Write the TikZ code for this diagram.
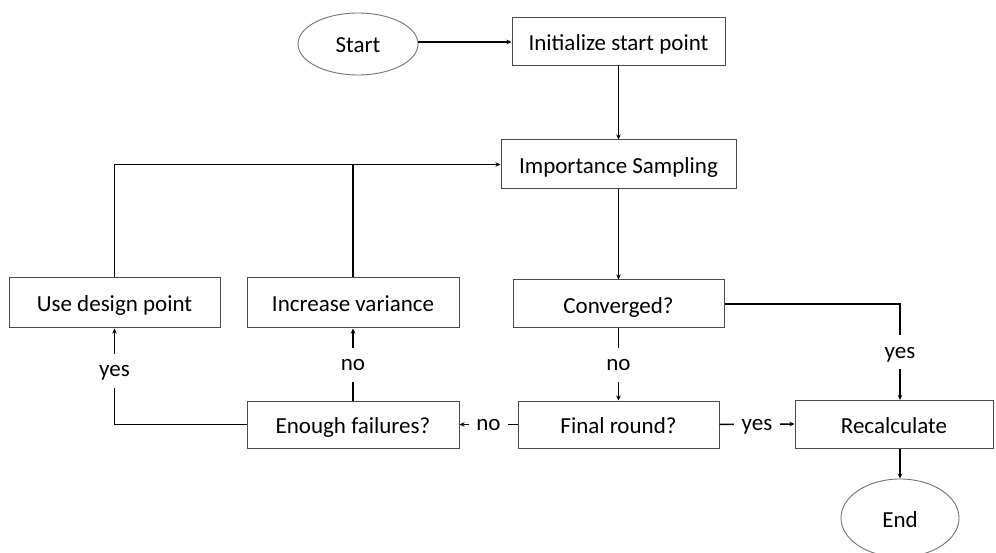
\documentclass[tikz,border=0pt]{standalone}
\usepackage{fontspec}
\setmainfont{Carlito}
\usetikzlibrary{shapes.geometric,arrows.meta}
\begin{document}
\begin{tikzpicture}[x=1pt,y=-1pt,
  every node/.style={font=\fontsize{23}{27}\selectfont, text=black},
  box/.style={draw=black!70, line width=1pt, rectangle, inner sep=0pt, minimum height=48pt, text height=18pt, text depth=0pt},
  oval/.style={draw=black!55, line width=0.9pt, ellipse, inner sep=0pt, text height=18pt, text depth=0pt},
  conn/.style={draw=black, line width=1.5pt},
  arr/.style={conn, -{Stealth[length=5pt,width=4.5pt]}},
  lbl/.style={fill=white, inner xsep=7.5pt, inner ysep=11pt, text height=12pt, text depth=0pt}]
\useasboundingbox (0,0) rectangle (996,553);
\node[oval, minimum width=120pt, minimum height=62pt] (start) at (358,44) {Start};
\node[box, minimum width=213pt] (init) at (618.5,42) {Initialize start point};
\node[box, minimum width=235pt, minimum height=49pt] (is) at (618.5,164.5) {Importance Sampling};
\node[box, minimum width=211pt] (conv) at (618.5,304) {Converged?};
\node[box, minimum width=211pt, minimum height=50pt] (udp) at (114.5,303) {Use design point};
\node[box, minimum width=212pt, minimum height=50pt] (iv) at (353,303) {Increase variance};
\node[box, minimum width=212pt, minimum height=47pt] (ef) at (353,424.5) {Enough failures?};
\node[box, minimum width=201pt, minimum height=47pt] (fr) at (618.5,424.5) {Final round?};
\node[box, minimum width=198pt] (rc) at (894,424) {Recalculate};
\coordinate (rcx) at (900,400);
\node[oval, minimum width=118pt, minimum height=78pt] (end) at (900,518) {End};

\draw[arr] (start.east |- init.west) -- (init.west);
\draw[arr] (init.south) -- (is.north);
\draw[arr] (udp.north) |- (is.west);
\draw[conn] (iv.north) -- (iv.north |- is.west);
\draw[arr] (is.south) -- (conv.north);
\draw[arr] (conv.east) -| (rcx) node[lbl, pos=0.75] {yes};
\draw[arr] (conv.south) -- (fr.north) node[lbl, midway] {no};
\draw[arr] (fr.west) -- (ef.east) node[lbl, midway] {no};
\draw[arr] (fr.east) -- (rc.west) node[lbl, midway] {yes};
\draw[arr] (ef.north) -- (iv.south) node[lbl, midway] {no};
\draw[arr] (ef.west) -| (udp.south) node[lbl, pos=0.78] {yes};
\draw[arr] (end.north |- rc.south) -- (end.north);
\end{tikzpicture}
\end{document}
